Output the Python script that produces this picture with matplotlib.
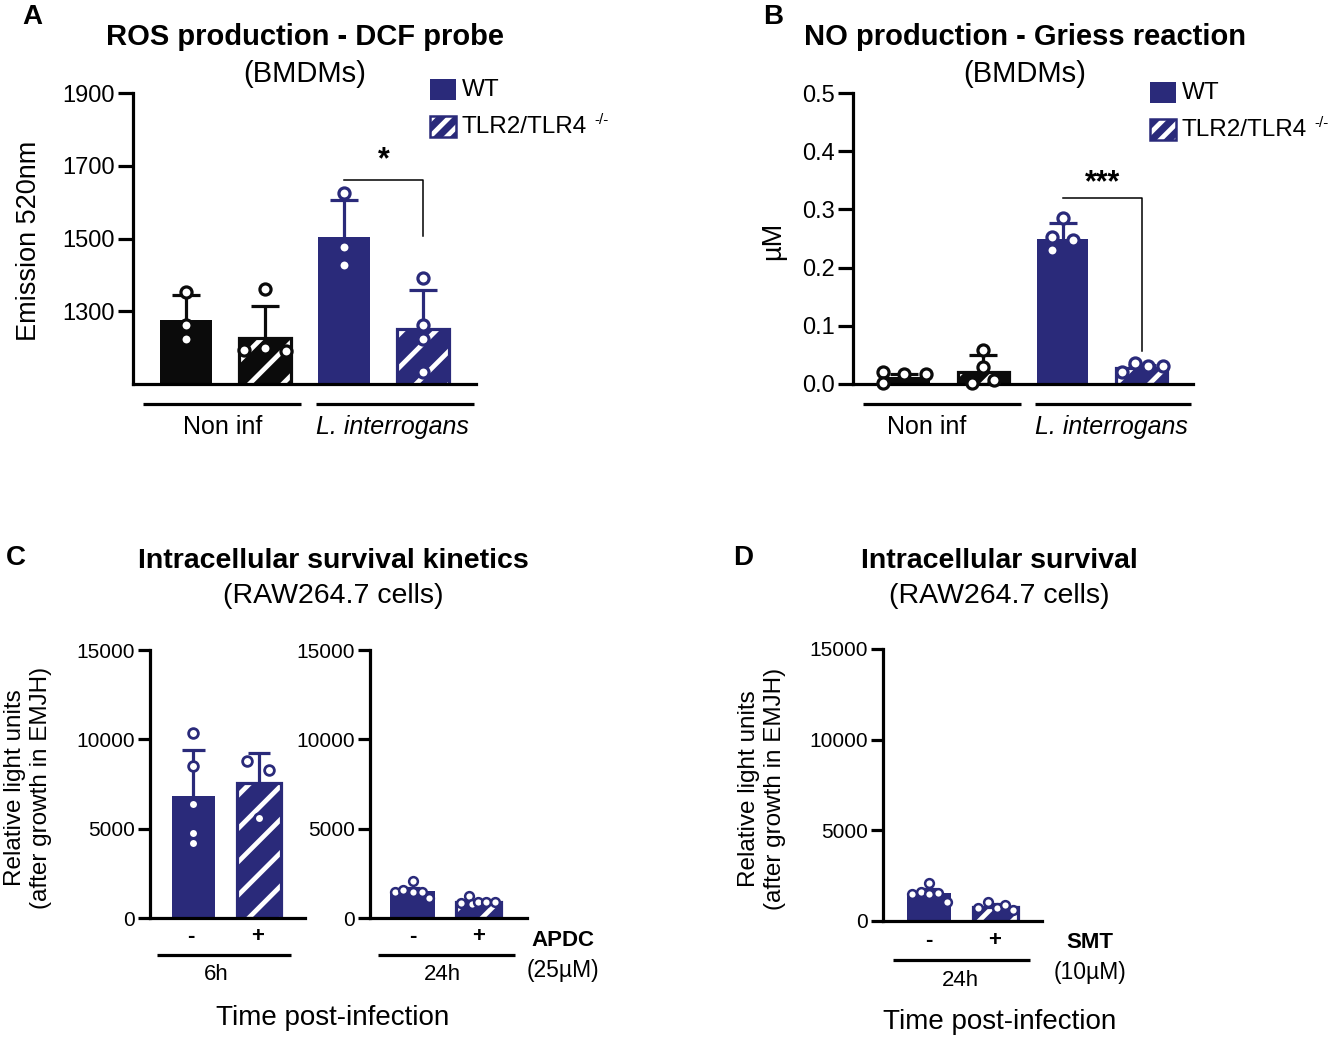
import matplotlib
matplotlib.use('Agg')
import matplotlib.pyplot as plt
from matplotlib.patches import Rectangle
import numpy as np

W, H = 1333, 1038
plt.rcParams['font.family'] = ['Liberation Sans', 'DejaVu Sans']
plt.rcParams['hatch.linewidth'] = 3.4

NAVY = '#2a2a7a'
BLACK = '#0b0b0b'

# ---------------- data ----------------
group_labels = ['Non inf', 'L. interrogans']
legend_labels = ['WT', 'TLR2/TLR4']

# Panel A: ROS (Emission 520nm), order: NonInf WT, NonInf KO, Inf WT, Inf KO
a_means = [1277, 1227, 1504, 1250]
a_sd = [69, 87, 103, 108]
a_points = [[1352, 1261, 1223],
            [1360, 1193, 1198, 1190],
            [1624, 1477, 1427],
            [1392, 1263, 1225, 1134]]
a_ticks = [1300, 1500, 1700, 1900]

# Panel B: NO (uM)
b_means = [0.012, 0.021, 0.250, 0.028]
b_sd = [0.005, 0.029, 0.027, 0.004]
b_points = [[0.021, 0.002, 0.017, 0.017],
            [0.058, 0.029, 0.002, 0.007],
            [0.285, 0.253, 0.247, 0.230],
            [0.021, 0.036, 0.031, 0.031]]
b_ticks = [0.0, 0.1, 0.2, 0.3, 0.4, 0.5]

# Panel C: RLU, APDC - / +
c6_means = [6802, 7547]
c6_sd = [2609, 1715]
c6_points = [[10343, 8535, 6374, 4752, 4193],
             [8796, 8293, 5591]]
c24_means = [1500, 870]
c24_sd = [200, 120]
c24_points = [[1456, 1568, 2090, 1456, 1456, 1120],
              [860, 1230, 800, 915, 915, 915]]
# Panel D: RLU, SMT - / +
d_means = [1542, 790]
d_sd = [200, 120]
d_points = [[1487, 1597, 2092, 1487, 1542, 1046],
            [733, 1063, 733, 880, 606]]
rlu_ticks = [0, 5000, 10000, 15000]
treat_labels = ['-', '+']

# horizontal scatter offsets of the dots (layout only)
a_jit = [[0, 0, 0], [0, -0.27, 0, 0.27], [0, 0, 0], [0, 0, 0, 0]]
b_jit = [[-0.27, -0.27, 0, 0.27], [0, 0, -0.15, 0.13],
         [0, -0.14, 0.13, -0.14], [-0.25, -0.09, 0.08, 0.27]]
c6_jit = [[0, 0, 0, 0, 0], [-0.18, 0.15, 0]]
c24_jit = [[-0.27, -0.14, 0, 0, 0.14, 0.25], [-0.27, -0.15, -0.1, 0.0, 0.12, 0.25]]
d_jit = [[-0.26, -0.12, 0, 0, 0.14, 0.27], [-0.26, -0.11, 0.02, 0.14, 0.26]]

fig = plt.figure(figsize=(W / 100, H / 100), dpi=100)


def px_axes(x0, x1, ytop, ybot):
    return fig.add_axes([x0 / W, 1 - ybot / H, (x1 - x0) / W, (ybot - ytop) / H])


def style_axes(ax, ticks, labelsize, ticklen):
    for s in ['top', 'right']:
        ax.spines[s].set_visible(False)
    for s in ['left', 'bottom']:
        ax.spines[s].set_linewidth(2.3)
        ax.spines[s].set_color('black')
    ax.set_xticks([])
    ax.set_yticks(ticks)
    ax.tick_params(axis='y', length=ticklen, width=2.3, labelsize=labelsize, pad=2)


def draw_bars(ax, means, sds, points, jit, colors, hatched, width, ms, mew, capw, lw):
    for i, (m, sd, pts, jj, c, h) in enumerate(zip(means, sds, points, jit, colors, hatched)):
        # upper-only error bar with a cap
        ax.plot([i, i], [m, m + sd], color=c, lw=lw, zorder=1.5, solid_capstyle='butt')
        ax.plot([i - capw, i + capw], [m + sd, m + sd], color=c, lw=lw, zorder=1.5,
                solid_capstyle='butt')
        if h:
            ax.bar(i, m, width, color=c, edgecolor='white', hatch='/', linewidth=0, zorder=2)
            ax.bar(i, m, width, fill=False, edgecolor=c, linewidth=lw, zorder=2.2)
        else:
            ax.bar(i, m, width, color=c, linewidth=0, zorder=2)
        ax.plot(np.array(jj) + i, pts, 'o', mfc='white', mec=c, ms=ms, mew=mew,
                zorder=4, clip_on=False)


# ---------------- Panel A ----------------
axA = px_axes(133, 476, 93, 384)
draw_bars(axA, a_means, a_sd, a_points, a_jit, [BLACK, BLACK, NAVY, NAVY],
          [False, True, False, True], 0.646, 8, 2.3, 0.177, 2.3)
axA.set_xlim(-0.671, 3.671)
axA.set_ylim(1100, 1900)
style_axes(axA, a_ticks, 17, 11)
axA.plot([2, 3, 3], [1660, 1660, 1506], color='black', lw=1.1)
axA.text(2.5, 1715, '*', ha='center', va='center', fontsize=22, fontweight='bold')

# ---------------- Panel B ----------------
axB = px_axes(853, 1193, 93, 384)
draw_bars(axB, b_means, b_sd, b_points, b_jit, [BLACK, BLACK, NAVY, NAVY],
          [False, True, False, True], 0.646, 8, 2.3, 0.177, 2.3)
axB.set_xlim(-0.646, 3.646)
axB.set_ylim(0, 0.5)
style_axes(axB, b_ticks, 17, 11)
axB.set_yticklabels([f'{t:.1f}' for t in b_ticks])
axB.plot([2, 3, 3], [0.32, 0.32, 0.057], color='black', lw=1.1)
axB.text(2.5, 0.345, '***', ha='center', va='center', fontsize=22, fontweight='bold')

# ---------------- Panel C ----------------
axC1 = px_axes(150, 305, 650, 918)
draw_bars(axC1, c6_means, c6_sd, c6_points, c6_jit, [NAVY, NAVY], [False, True],
          0.67, 7, 2.0, 0.168, 2.3)
axC1.set_xlim(-0.664, 1.702)
axC1.set_ylim(0, 15000)
style_axes(axC1, rlu_ticks, 15, 9)

axC2 = px_axes(370, 527, 650, 918)
draw_bars(axC2, c24_means, c24_sd, c24_points, c24_jit, [NAVY, NAVY], [False, True],
          0.67, 6.3, 1.8, 0.12, 2.3)
axC2.set_xlim(-0.644, 1.735)
axC2.set_ylim(0, 15000)
style_axes(axC2, rlu_ticks, 15, 9)

# ---------------- Panel D ----------------
axD = px_axes(883, 1042, 649, 921)
draw_bars(axD, d_means, d_sd, d_points, d_jit, [NAVY, NAVY], [False, True],
          0.67, 6.3, 1.8, 0.12, 2.3)
axD.set_xlim(-0.692, 1.699)
axD.set_ylim(0, 15000)
style_axes(axD, rlu_ticks, 15, 9)

# ---------------- overlay (text, underlines, legends) ----------------
ov = fig.add_axes([0, 0, 1, 1])
ov.set_xlim(0, W)
ov.set_ylim(H, 0)
ov.axis('off')
ov.patch.set_alpha(0)


def t(x, y, s, size, bold=False, italic=False, ha='center', rot=0, ls=1.2):
    ov.text(x, y, s, fontsize=size, fontweight='bold' if bold else 'normal',
            fontstyle='italic' if italic else 'normal', ha=ha, va='center',
            rotation=rot, linespacing=ls)


def uline(x0, x1, y):
    ov.plot([x0, x1], [y, y], color='black', lw=2.3, solid_capstyle='butt')


# panel letters
t(32, 17, 'A', 20, bold=True)
t(773, 17, 'B', 20, bold=True)
t(16, 558, 'C', 20, bold=True)
t(743, 558, 'D', 20, bold=True)

# A texts
t(305, 37, 'ROS production - DCF probe', 21, bold=True)
t(305, 74, '(BMDMs)', 21)
t(29, 241, 'Emission 520nm', 19.5, rot=90)
uline(143, 301, 404)
uline(316, 474, 404)
t(223, 427, group_labels[0], 18)
t(392, 427, group_labels[1], 18, italic=True)

# B texts
t(1025, 37, 'NO production - Griess reaction', 21, bold=True)
t(1025, 74, '(BMDMs)', 21)
t(773, 241, 'µM', 19.5, rot=90)
uline(863, 1021, 404)
uline(1035, 1191, 404)
t(927, 427, group_labels[0], 18)
t(1111, 427, group_labels[1], 18, italic=True)


def legend(x, y):
    ov.add_patch(Rectangle((x, y), 26, 21, facecolor=NAVY, edgecolor='none'))
    ov.add_patch(Rectangle((x, y + 37), 26, 21, facecolor=NAVY, edgecolor='white',
                           hatch='//', linewidth=0))
    ov.add_patch(Rectangle((x, y + 37), 26, 21, fill=False, edgecolor=NAVY, linewidth=1.8))
    t(x + 32, y + 11, legend_labels[0], 17.5, ha='left')
    t(x + 32, y + 48, legend_labels[1], 17.5, ha='left')
    t(x + 164, y + 41, '-/-', 11, ha='left')


legend(430, 79)
legend(1150, 82)

# C texts
t(333, 561, 'Intracellular survival kinetics', 20.5, bold=True)
t(333, 596, '(RAW264.7 cells)', 20.5)
t(28, 788, 'Relative light units\n(after growth in EMJH)', 17.5, rot=90)
t(191, 937, treat_labels[0], 16, bold=True)
t(258, 937, treat_labels[1], 16, bold=True)
t(413, 937, treat_labels[0], 16, bold=True)
t(479, 937, treat_labels[1], 16, bold=True)
uline(157, 291, 955)
uline(378, 515, 955)
t(216, 975, '6h', 16)
t(442, 975, '24h', 16)
t(563, 940, 'APDC', 16, bold=True)
t(563, 970, '(25µM)', 16.5)
t(333, 1018, 'Time post-infection', 20)

# D texts
t(999, 561, 'Intracellular survival', 20.5, bold=True)
t(999, 596, '(RAW264.7 cells)', 20.5)
t(762, 789, 'Relative light units\n(after growth in EMJH)', 17.5, rot=90)
t(929, 940, treat_labels[0], 16, bold=True)
t(995, 940, treat_labels[1], 16, bold=True)
uline(893, 1030, 960)
t(960, 980, '24h', 16)
t(1090, 943, 'SMT', 16, bold=True)
t(1090, 973, '(10µM)', 16.5)
t(1000, 1022, 'Time post-infection', 20)

fig.savefig('out.png', dpi=100)
